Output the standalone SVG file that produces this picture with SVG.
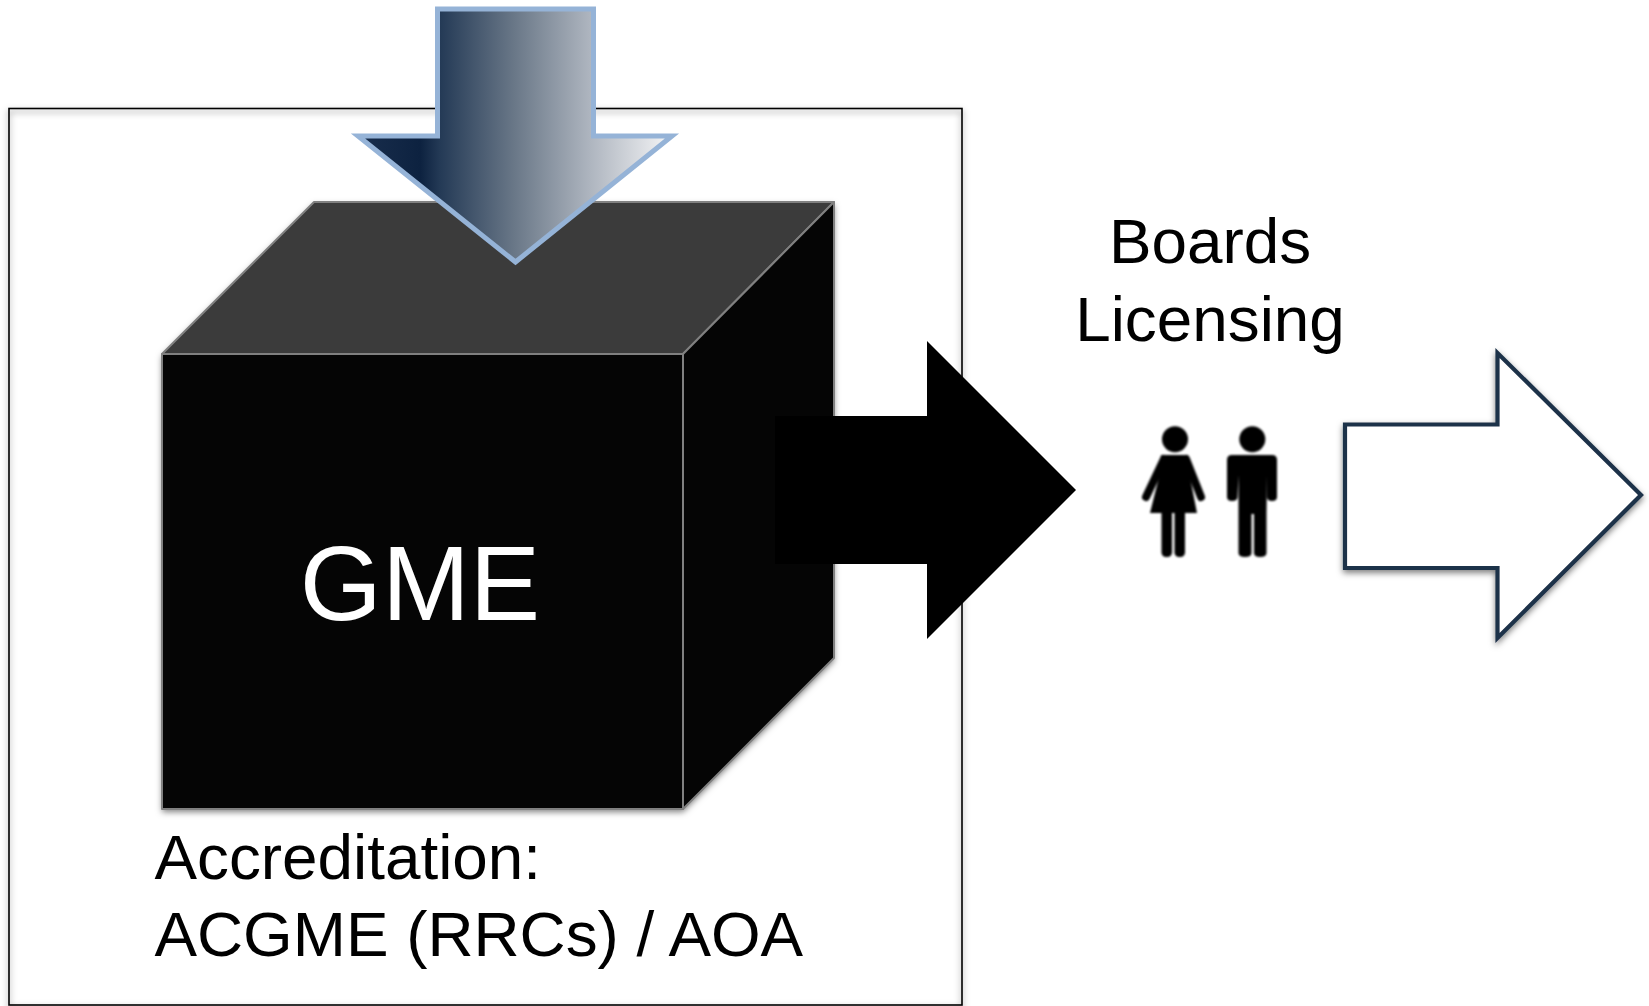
<svg xmlns="http://www.w3.org/2000/svg" width="1649" height="1006" viewBox="0 0 1649 1006">
<style>
text{font-family:"Liberation Sans",Arial,sans-serif;font-size:63.800px;fill:#000}
.edge{stroke:#808080;stroke-width:2;stroke-linejoin:round}
.p{fill:#000}
.arm{fill:none;stroke:#000;stroke-width:8;stroke-linecap:round}
</style>
<defs>
<linearGradient id="steel" gradientUnits="userSpaceOnUse" x1="352" y1="0" x2="678" y2="0">
<stop offset="0" stop-color="#1a2f4e"/>
<stop offset="0.21" stop-color="#0d2240"/>
<stop offset="0.27" stop-color="#243a56"/>
<stop offset="0.5" stop-color="#6a7888"/>
<stop offset="0.73" stop-color="#aeb5bf"/>
<stop offset="0.96" stop-color="#eff0f2"/>
</linearGradient>
<filter id="sh" x="-5%" y="-5%" width="110%" height="110%"><feDropShadow dx="0" dy="3" stdDeviation="3" flood-color="#000" flood-opacity="0.5"/></filter>
<filter id="soft" x="-5%" y="-5%" width="110%" height="110%"><feGaussianBlur stdDeviation="0.9"/></filter>
</defs>
<rect width="1649" height="1006" fill="#fff"/>
<g id="accreditation-box">
<rect x="9" y="108.500" width="953" height="896.500" fill="none" stroke="#000" stroke-width="1.600" filter="url(#sh)"/>
<text x="154.500" y="879">Accreditation:</text>
<text x="154.500" y="956">ACGME (RRCs) / AOA</text>
</g>
<g id="gme-cube">
<g filter="url(#sh)">
<polygon points="162,354 314,202 834,202 834,658 683,809 162,809" fill="#050505"/>
</g>
<polygon class="edge" points="162,354 314,202 834,202 683,354" fill="#3b3b3b"/>
<polygon class="edge" points="683,354 834,202 834,658 683,809" fill="#050505" stroke-width="1.500"/>
<rect class="edge" x="162" y="354" width="521" height="455" fill="#050505"/>
<text x="420" y="620" text-anchor="middle" style="fill:#fff;font-size:105.500px">GME</text>
</g>
<g id="connectors">
<polygon id="input-arrow" points="437.500,9 593.500,9 593.500,136 672,136 515.500,262 358,136 437.500,136" fill="url(#steel)" stroke="#95b3d7" stroke-width="5"/>
<polygon id="output-arrow" points="775,416 927,416 927,341 1076,490 927,639 927,564 775,564" fill="#000"/>
<polygon id="next-arrow" points="1345,424.500 1497.500,424.500 1497.500,353 1641,495 1497.500,638 1497.500,568 1345,568" fill="#fff" stroke="#1f3148" stroke-width="4.200" filter="url(#sh)"/>
</g>
<g id="boards-licensing">
<text x="1210" y="262.500" text-anchor="middle">Boards</text>
<text x="1210" y="340.500" text-anchor="middle">Licensing</text>
</g>
<g id="people" filter="url(#soft)">
<g id="woman">
<circle class="p" cx="1175" cy="439.300" r="13"/>
<polygon class="p" points="1161,455 1188,455 1190,477 1197,513 1150,513 1159,477"/>
<path class="arm" d="M1164 459L1146 497M1186 459L1201 497"/>
<rect class="p" x="1161.500" y="505" width="10.500" height="52" rx="4.500"/>
<rect class="p" x="1174.500" y="505" width="10.500" height="52" rx="4.500"/>
</g>
<g id="man">
<circle class="p" cx="1252.300" cy="439.300" r="13"/>
<path class="p" d="M1232 455H1272Q1277 455 1277 460V497Q1277 501 1272 501Q1267 501 1267 497V475L1266.500 514V553Q1266.500 557 1260 557Q1254 557 1254 553V514H1251.500V553Q1251.500 557 1245 557Q1238.500 557 1238.500 553V475L1237.500 497Q1237.500 501 1232 501Q1227 501 1227 497V460Q1227 455 1232 455Z"/>
</g>
</g>
</svg>
